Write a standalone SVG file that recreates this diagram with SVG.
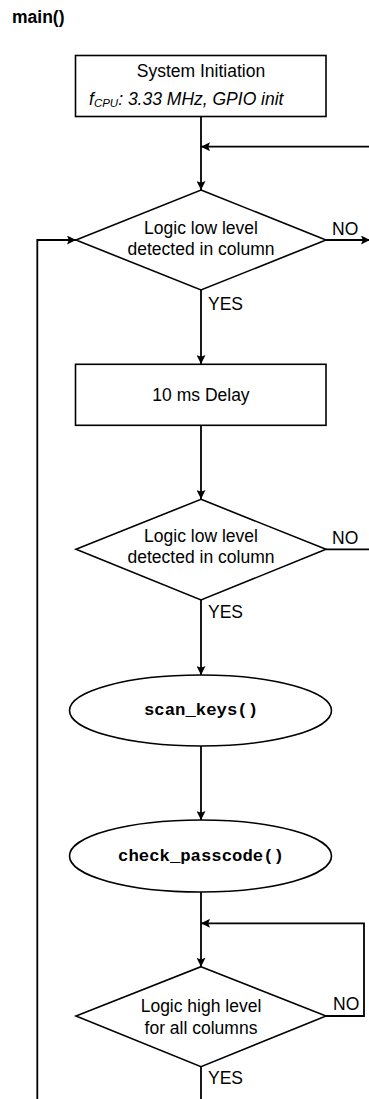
<svg xmlns="http://www.w3.org/2000/svg" width="369" height="1099" viewBox="0 0 369 1099">
  <style>
    .shape { fill: #ffffff; stroke: #000000; stroke-width: 1.6; }
    .wire { fill: none; stroke: #000000; stroke-width: 1.8; }
    .lbl { font-family: "Liberation Sans", Arial, sans-serif; font-size: 17.5px; fill: #000000; text-anchor: middle; }
    .tag { font-family: "Liberation Sans", Arial, sans-serif; font-size: 17.5px; fill: #000000; }
    .code { font-family: "Liberation Mono", "Courier New", monospace; font-size: 17.3px; font-weight: bold; fill: #000000; text-anchor: middle; }
    .title { font-family: "Liberation Sans", Arial, sans-serif; font-size: 17.5px; font-weight: bold; fill: #000000; }
  </style>
  <defs>
    <marker id="arrow" viewBox="0 0 10 10" refX="10" refY="5" markerWidth="10" markerHeight="9" markerUnits="userSpaceOnUse" orient="auto">
      <path d="M0,0 L10,5 L0,10 L2,5 Z" fill="#000000"/>
    </marker>
  </defs>

  <rect width="369" height="1099" fill="#ffffff"/>

  <text class="title" x="12" y="23">main()</text>

  <!-- connectors -->
  <g id="connectors">
    <!-- init -> first test -->
    <path class="wire" d="M201,116 V190" marker-end="url(#arrow)"/>
    <!-- return from the right into the first test -->
    <path class="wire" d="M369,146.7 H201" marker-end="url(#arrow)"/>
    <!-- NO branch of the first test -->
    <path class="wire" d="M326,240 H370" marker-end="url(#arrow)"/>
    <!-- outer loop back into the first test -->
    <path class="wire" d="M37.3,1099 V240 H76" marker-end="url(#arrow)"/>
    <!-- YES -> delay -->
    <path class="wire" d="M201,290 V364" marker-end="url(#arrow)"/>
    <!-- delay -> second test -->
    <path class="wire" d="M201,425 V499" marker-end="url(#arrow)"/>
    <!-- NO branch of the second test -->
    <path class="wire" d="M326,549.3 H369"/>
    <!-- YES -> scan_keys -->
    <path class="wire" d="M201,600 V675" marker-end="url(#arrow)"/>
    <!-- scan_keys -> check_passcode -->
    <path class="wire" d="M201,746 V820" marker-end="url(#arrow)"/>
    <!-- check_passcode -> release test -->
    <path class="wire" d="M201,892 V966.7" marker-end="url(#arrow)"/>
    <!-- NO: wait until all columns are released -->
    <path class="wire" d="M326,1016 H364 V923.3 H201" marker-end="url(#arrow)"/>
    <!-- YES -> continue -->
    <path class="wire" d="M201,1066.7 V1099"/>
  </g>

  <g id="init">
    <rect class="shape" x="75.5" y="55.5" width="250.5" height="61"/>
    <text class="lbl" x="201" y="77.3">System Initiation</text>
    <text class="tag" x="89" y="105" font-style="italic">f<tspan font-size="11.5px" dy="2">CPU</tspan><tspan dy="-2">: 3.33 MHz, GPIO init</tspan></text>
  </g>

  <g id="test1">
    <polygon class="shape" points="201,190 326,240 201,290 76,240"/>
    <text class="lbl" x="201" y="233.5">Logic low level</text>
    <text class="lbl" x="201" y="255">detected in column</text>
    <text class="tag" x="332" y="235">NO</text>
    <text class="tag" x="208" y="309.5">YES</text>
  </g>

  <g id="delay">
    <rect class="shape" x="75.5" y="364.3" width="250.5" height="61"/>
    <text class="lbl" x="201" y="401">10 ms Delay</text>
  </g>

  <g id="test2">
    <polygon class="shape" points="201,499.3 326,549.3 201,600 76,549.3"/>
    <text class="lbl" x="201" y="541.7">Logic low level</text>
    <text class="lbl" x="201" y="563.3">detected in column</text>
    <text class="tag" x="332" y="544">NO</text>
    <text class="tag" x="208" y="617.7">YES</text>
  </g>

  <g id="scan_keys">
    <ellipse class="shape" cx="200.5" cy="710.5" rx="131" ry="35.5"/>
    <text class="code" x="201" y="715">scan_keys()</text>
  </g>

  <g id="check_passcode">
    <ellipse class="shape" cx="200.5" cy="856" rx="131" ry="36"/>
    <text class="code" x="201" y="860.7">check_passcode()</text>
  </g>

  <g id="test3">
    <polygon class="shape" points="201,966.7 326,1016 201,1066.7 76,1016"/>
    <text class="lbl" x="201" y="1011.7">Logic high level</text>
    <text class="lbl" x="201" y="1034">for all columns</text>
    <text class="tag" x="333" y="1010.3">NO</text>
    <text class="tag" x="208" y="1084.3">YES</text>
  </g>
</svg>
